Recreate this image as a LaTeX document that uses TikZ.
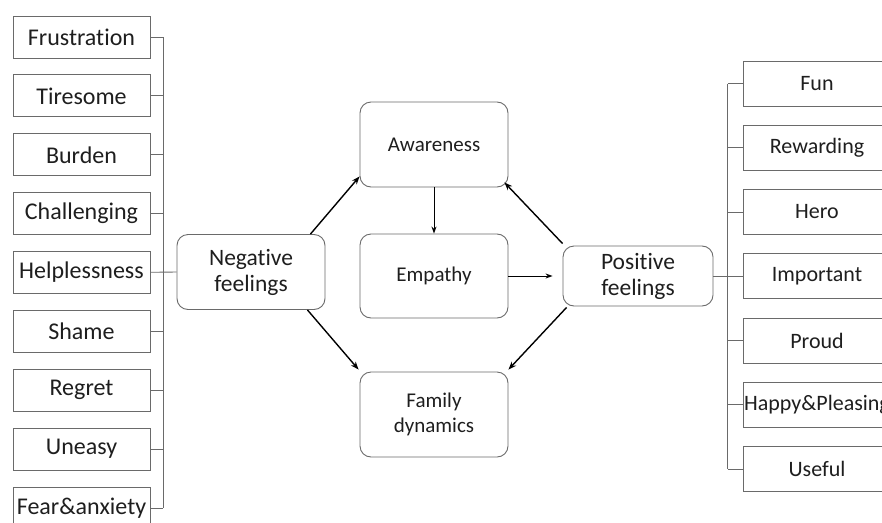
\documentclass[tikz,border=0pt]{standalone}
\usepackage{fontspec}
\setmainfont{Carlito}[RawFeature=-liga]
\usetikzlibrary{arrows.meta,calc}
\definecolor{boxgray}{HTML}{6A6A6A}
\definecolor{txt}{HTML}{1E1E1E}
\tikzset{
  leftbox/.style={draw=boxgray,line width=0.9pt,minimum width=137pt,minimum height=42pt,inner sep=0pt,text=txt,font=\fontsize{24}{27}\selectfont},
  rightbox/.style={draw=boxgray,line width=0.9pt,minimum width=148pt,minimum height=45pt,inner sep=0pt,text=txt,font=\fontsize{22}{25}\selectfont},
  midbox/.style={draw=boxgray,line width=0.9pt,rounded corners=11pt,minimum width=148pt,minimum height=85pt,inner sep=0pt,align=center,text=txt,font=\fontsize{21}{25}\selectfont},
  feelbox/.style={draw=boxgray,line width=0.9pt,rounded corners=11pt,inner sep=0pt,align=center,text=txt,font=\fontsize{23.5}{26}\selectfont},
  bus/.style={draw=boxgray,line width=0.9pt},
  arr/.style={draw=black,line width=1.4pt,-{Stealth[length=8pt,width=6pt]}},
  thinarr/.style={draw=black,line width=0.9pt,-{Stealth[length=7pt,width=5pt]}}
}
\begin{document}
\begin{tikzpicture}[x=1pt,y=-1pt]
\useasboundingbox (0,0) rectangle (882,522);
\clip (0,0) rectangle (882,522);
% left column
\node[leftbox] (l1) at (81.5,37) {Frustration};
\node[leftbox] (l2) at (81.5,95.9) {Tiresome};
\node[leftbox] (l3) at (81.5,154.8) {Burden};
\node[leftbox] (l4) at (81.5,213.7) {Challenging};
\node[leftbox] (l5) at (81.5,272.3) {Helplessness};
\node[leftbox] (l6) at (81.5,331) {Shame};
\node[leftbox] (l7) at (81.5,390) {Regret};
\node[leftbox] (l8) at (81.5,449) {Uneasy};
\node[leftbox] (l9) at (81.5,508.2) {Fear\&anxiety};
% center
\node[feelbox,minimum width=148pt,minimum height=75pt] (neg) at (251,272) {Negative\\feelings};
\node[midbox] (aw) at (434,144.5) {Awareness};
\node[midbox,minimum height=84pt] (emp) at (434,276) {Empathy};
\node[midbox] (fam) at (434,414.5) {Family\\dynamics};
\node[feelbox,minimum width=150pt,minimum height=60pt] (pos) at (638,276) {Positive\\feelings};
% right column
\node[rightbox] (r1) at (817,83.5) {Fun};
\node[rightbox] (r2) at (817,147.75) {Rewarding};
\node[rightbox] (r3) at (817,212) {Hero};
\node[rightbox] (r4) at (817,276) {Important};
\node[rightbox] (r5) at (817,340.5) {Proud};
\node[rightbox] (r6) at (817,404.75) {Happy\&Pleasing};
\node[rightbox] (r7) at (817,469) {Useful};
% left bus
\foreach \n in {l1,l2,l3,l4,l6,l7,l8,l9}{
  \draw[bus] (\n.east) -- ++(13,0);
}
\draw[bus] ($(l1.east)+(13,0)$) -- ($(l9.east)+(13,0)$);
\draw[bus] (l5.east) -- (neg.west);
% right bus
\foreach \n in {r1,r2,r3,r5,r6,r7}{
  \draw[bus] (\n.west) -- ++(-15,0);
}
\draw[bus] ($(r1.west)+(-15,0)$) -- ($(r7.west)+(-15,0)$);
\draw[bus] (pos.east) -- (r4.west);
% arrows
\draw[arr] ($(neg.north east)+(-15,0)$) -- ($(aw.south west)+(0,-11)$);
\draw[arr] ($(neg.south east)+(-18,0)$) -- ($(fam.north west)+(-1,-2)$);
\draw[arr] ($(pos.north west)+(0,-2)$) -- ($(aw.south east)+(-4,-5)$);
\draw[arr] ($(pos.south west)+(4,1)$) -- ($(fam.north east)+(0,-2)$);
\draw[thinarr] (aw.south) -- (emp.north);
\draw[thinarr] (emp.east) -- ($(pos.west)+(-10,0)$);
\end{tikzpicture}
\end{document}
